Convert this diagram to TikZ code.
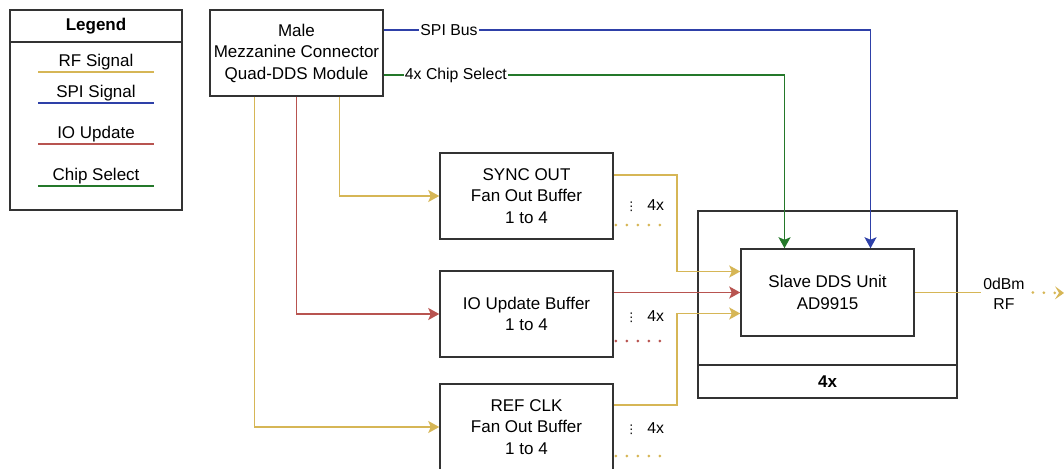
\documentclass[tikz,border=0pt]{standalone}
\usepackage{fontspec}
\setmainfont{Liberation Sans}
\newfontfamily\symfont{DejaVu Sans}
\usetikzlibrary{positioning,arrows.meta,calc}
\definecolor{rfyel}{HTML}{D6B656}
\definecolor{iored}{HTML}{B85450}
\definecolor{spiblu}{HTML}{2E40A8}
\definecolor{csgrn}{HTML}{24782A}
\newcommand{\mainfs}{\fontsize{17}{21.5}\selectfont}
\newcommand{\edgefs}{\fontsize{15.8}{20}\selectfont}
\tikzset{
  >={Stealth[length=11pt,width=12pt,inset=2.5pt]},
  blk/.style={draw=black!80,line width=1.5pt,fill=white,minimum width=173pt,
    minimum height=86pt,align=center,inner sep=2pt,font=\mainfs},
  legbox/.style={draw=black!80,line width=1.5pt,minimum width=172pt,inner sep=0pt},
  legtxt/.style={minimum width=115pt,minimum height=20pt,inner sep=0pt,font=\mainfs},
  sig/.style={line width=1.6pt},
  rfl/.style={sig,rfyel},
  iol/.style={sig,iored},
  spil/.style={sig,spiblu},
  csl/.style={sig,csgrn},
  elbl/.style={font=\edgefs,fill=white,inner sep=1pt,text=black},
  qtylbl/.style={font=\edgefs,inner sep=0pt},
  fandots/.style={line width=3pt,dash pattern=on 0pt off 11pt,line cap=round},
}
\begin{document}
\begin{tikzpicture}[x=1pt,y=-1pt]
  \useasboundingbox (0,0) rectangle (1064,468);

  % legend
  \node[legbox,minimum height=32pt,font=\mainfs\bfseries] (leghead) at (96,26) {Legend};
  \node[legbox,minimum height=168pt] (legbody) at (96,126) {};
  \node[legtxt] (lrf)  at (96,62)  {RF Signal};
  \node[legtxt] (lspi) at (96,93)  {SPI Signal};
  \node[legtxt] (lio)  at (96,134) {IO Update};
  \node[legtxt] (lcs)  at (96,176) {Chip Select};
  \draw[rfl]  (lrf.south west)  -- (lrf.south east);
  \draw[spil] (lspi.south west) -- (lspi.south east);
  \draw[iol]  (lio.south west)  -- (lio.south east);
  \draw[csl]  (lcs.south west)  -- (lcs.south east);

  % blocks
  \node[blk] (male) at (296.5,53) {Male\\Mezzanine Connector\\Quad-DDS Module};
  \node[blk] (sync) at (526.5,196) {SYNC OUT\\Fan Out Buffer\\1 to 4};
  \node[blk] (iobuf) at (526.5,314) {IO Update Buffer\\1 to 4};
  \node[blk] (refclk) at (526.5,427) {REF CLK\\Fan Out Buffer\\1 to 4};
  \node[blk,minimum width=259pt,minimum height=154pt] (outer) at (827.5,288) {};
  \node[blk,minimum width=259pt,minimum height=33pt,font=\mainfs\bfseries] (mult) at (827.5,381.5) {4x};
  \node[blk,minimum height=87pt] (slave) at (827.5,292.5) {Slave DDS Unit\\AD9915};
  \node[font=\edgefs,align=center,inner sep=2pt] (rfout) at (1004,294) {0dBm\\RF};

  \coordinate (rfbus) at (677,0);
  \coordinate (sin1) at ([yshift=21pt]slave.west);
  \coordinate (sin3) at ([yshift=-21pt]slave.west);
  \coordinate (rfend) at (1064,293);

  % control lines
  \draw[spil,->] ([yshift=23pt]male.east) -| node[elbl,pos=0.067] {SPI Bus} ([xshift=43pt]slave.north);
  \draw[csl,->] ([yshift=-22pt]male.east) -| node[elbl,pos=0.09] {4x Chip Select} ([xshift=-43pt]slave.north);

  % feeds into buffers
  \draw[rfl,->] ([xshift=-42pt]male.south) |- (refclk.west);
  \draw[iol,->] (male.south) |- (iobuf.west);
  \draw[rfl,->] ([xshift=43pt]male.south) |- (sync.west);

  % buffer outputs
  \draw[rfl,->] ([yshift=21pt]sync.east) -| (rfbus |- sin1) -- (sin1);
  \draw[iol,->] (slave.west -| iobuf.east) -- (slave.west);
  \draw[rfl,->] ([yshift=22pt]refclk.east) -| (rfbus |- sin3) -- (sin3);
  \foreach \b/\c/\q/\d in {sync/rfl/10/29,iobuf/iol/3/27,refclk/rfl/2/29}{
    \node[qtylbl] (\b q) at ([xshift=31pt,yshift=-\q pt]\b.east)
      {{\symfont\fontsize{12}{12}\selectfont ⋮}\hspace{10pt}4x};
    \draw[\c,fandots] ([xshift=2pt,yshift=-\d pt]\b.east) -- ++(47,0);
  }

  % rf output
  \draw[rfl] (slave.east) -- (slave.east -| rfout.west);
  \draw[rfl,fandots,-{Stealth[length=9pt,width=13pt,inset=4pt,line width=1pt]}] ([xshift=6pt]rfout.east |- slave.east) -- (rfend);
\end{tikzpicture}
\end{document}
